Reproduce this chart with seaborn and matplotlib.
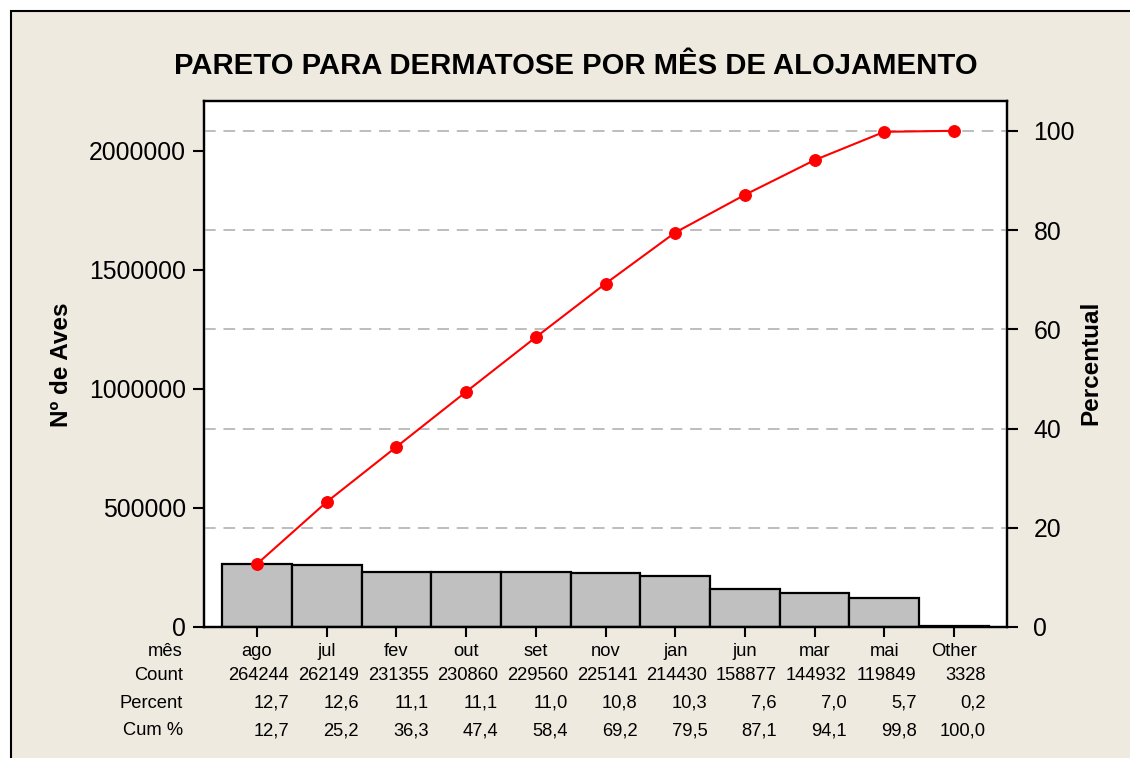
import numpy as np
import pandas as pd
import matplotlib
matplotlib.use("Agg")
import matplotlib.pyplot as plt
import matplotlib.transforms as mtransforms
from matplotlib.patches import Rectangle
import seaborn as sns

# Pareto data: housing month vs. number of birds with dermatosis
months = ["ago", "jul", "fev", "out", "set", "nov", "jan", "jun", "mar", "mai", "Other"]
counts = [264244, 262149, 231355, 230860, 229560, 225141, 214430, 158877, 144932, 119849, 3328]
percent = [12.7, 12.6, 11.1, 11.1, 11.0, 10.8, 10.3, 7.6, 7.0, 5.7, 0.2]
cum_percent = [12.7, 25.2, 36.3, 47.4, 58.4, 69.2, 79.5, 87.1, 94.1, 99.8, 100.0]
count_ticks = [0, 500000, 1000000, 1500000, 2000000]
pct_ticks = [0, 20, 40, 60, 80, 100]

title = "PARETO PARA DERMATOSE POR MÊS DE ALOJAMENTO"
row_labels = ["mês", "Count", "Percent", "Cum %"]

sns.set_theme(style="white")
plt.rcParams["font.family"] = ["Liberation Sans", "DejaVu Sans"]
plt.rcParams.update({"text.color": "black", "axes.labelcolor": "black",
                     "xtick.color": "black", "ytick.color": "black"})

W, H = 1130, 758
BG = "#EEEAE0"
fig = plt.figure(figsize=(W / 100, H / 100), dpi=100, facecolor="white")

# beige panel with a black frame on its top and left edges
fig.patches.append(Rectangle((11 / W, -0.05), 1.2, 1 - 11 / H + 0.05,
                             transform=fig.transFigure, facecolor=BG,
                             edgecolor="black", linewidth=1.5, zorder=-10))

ax = fig.add_axes([204 / W, 1 - 627 / H, (1007 - 204) / W, (627 - 101) / H])
ax.set_facecolor("white")

df = pd.DataFrame({"mes": months, "count": counts})
sns.barplot(data=df, x="mes", y="count", order=months, color="#C0C0C0",
            saturation=1, edgecolor="black", linewidth=1.6, width=1.0, ax=ax)

total = sum(counts)
ymax = 2210000
ax.set_ylim(0, ymax)
ax.set_xlim(-0.76, len(months) - 1 + 0.76)
ax.set_yticks(count_ticks)
ax.set_yticklabels([str(t) for t in count_ticks])
ax.set_xlabel("")
ax.set_ylabel("")
ax.set_xticks(range(len(months)))
ax.tick_params(axis="x", direction="out", length=7, width=1.5, color="black",
               labelbottom=False, bottom=True)
ax.tick_params(axis="y", direction="out", length=8, width=1.5, color="black",
               labelcolor="black", labelsize=17.8, pad=5, left=True)
for s in ax.spines.values():
    s.set_color("black")
    s.set_linewidth(1.6)

ax2 = ax.twinx()
ax2.set_ylim(0, ymax / total * 100)
ax2.set_yticks(pct_ticks)
ax2.set_yticklabels([str(t) for t in pct_ticks])
ax2.tick_params(axis="y", direction="out", length=8, width=1.5, color="black",
                labelcolor="black", labelsize=17.8, pad=11, right=True)
for s in ax2.spines.values():
    s.set_color("black")
    s.set_linewidth(1.6)
for t in pct_ticks[1:]:
    ax2.axhline(t, color="#BDBDBD", linewidth=1.4, linestyle=(0, (6, 4)), zorder=0)

line_df = pd.DataFrame({"pos": np.arange(len(months)), "cum": cum_percent})
sns.lineplot(data=line_df, x="pos", y="cum", ax=ax2, color="red", linewidth=1.5,
             marker="o", markersize=8.5, markeredgecolor="red", zorder=5)
ax2.set_xlabel("")
ax2.set_ylabel("")
ax.set_xlim(-0.76, len(months) - 1 + 0.76)

# title and axis labels
fig.text(576 / W, 1 - 66 / H, title, ha="center", va="center",
         fontsize=21.1, fontweight="bold", color="black")
fig.text(62 / W, 1 - 365 / H, "Nº de Aves", rotation=90, ha="center",
         va="center", fontsize=17.5, fontweight="bold", color="black")
fig.text(1091 / W, 1 - 363 / H, "Percentual", rotation=90, ha="center",
         va="center", fontsize=17.5, fontweight="bold", color="black")

# summary table under the chart
trans = mtransforms.blended_transform_factory(ax.transData, fig.transFigure)
row_base = [656, 680, 708, 735]
tfs = 13.2
for lbl, yb in zip(row_labels, row_base):
    fig.text(183 / W, 1 - yb / H, lbl, ha="right", va="baseline",
             fontsize=tfs, color="black")
for i, m in enumerate(months):
    ax.text(i, 1 - row_base[0] / H, m, transform=trans, ha="center",
            va="baseline", fontsize=tfs, color="black", clip_on=False)
    ax.text(i + 0.46, 1 - row_base[1] / H, str(counts[i]), transform=trans,
            ha="right", va="baseline", fontsize=tfs, color="black", clip_on=False)
    ax.text(i + 0.46, 1 - row_base[2] / H, f"{percent[i]:.1f}".replace(".", ","),
            transform=trans, ha="right", va="baseline", fontsize=tfs,
            color="black", clip_on=False)
    ax.text(i + 0.46, 1 - row_base[3] / H, f"{cum_percent[i]:.1f}".replace(".", ","),
            transform=trans, ha="right", va="baseline", fontsize=tfs,
            color="black", clip_on=False)

fig.savefig("out.png", dpi=100, facecolor=fig.get_facecolor())
